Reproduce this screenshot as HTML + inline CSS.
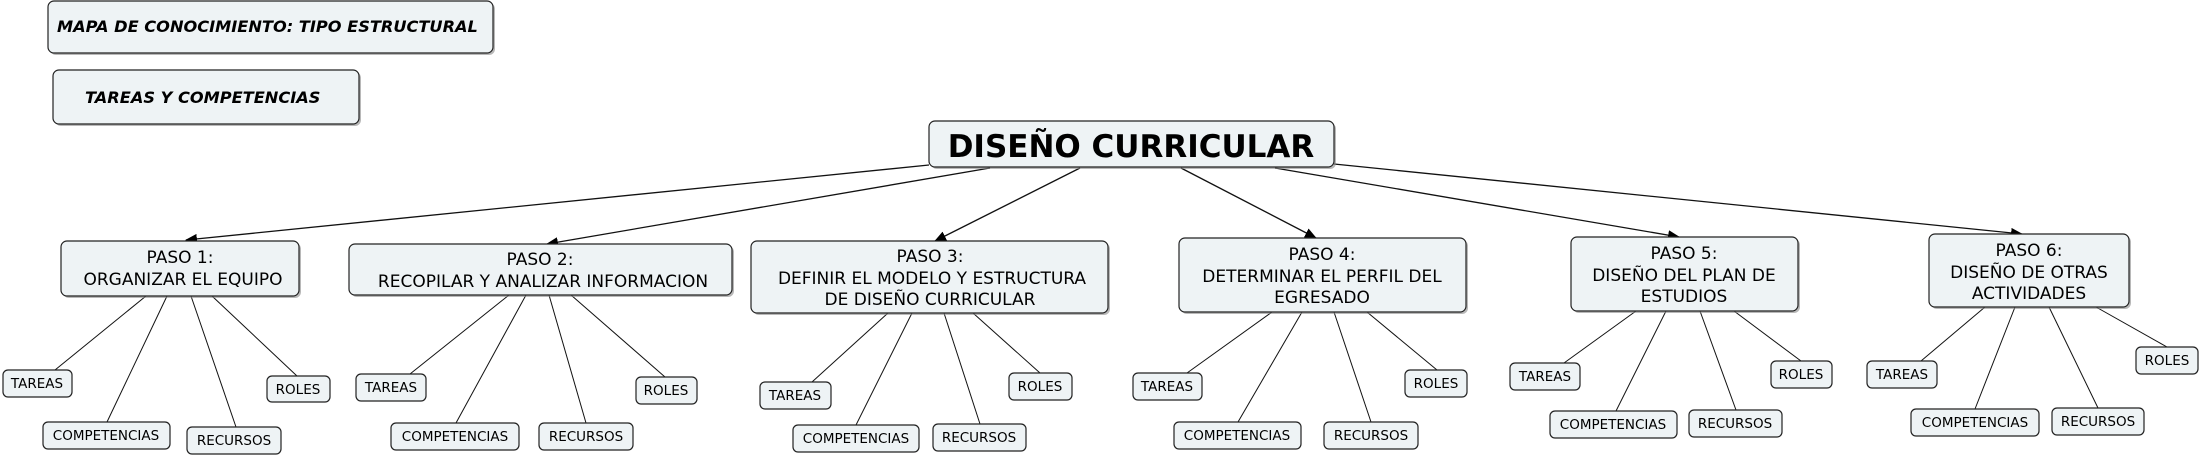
<!DOCTYPE html>
<html><head><meta charset="utf-8"><style>
html,body{margin:0;padding:0;background:#fff;}
svg{display:block;}
text{font-family:"DejaVu Sans","Liberation Sans",sans-serif;fill:#000;}
.b{fill:#eef3f5;stroke:#222;stroke-width:1.2;}
.s{fill:#888;stroke:none;opacity:.6;}
.l{stroke:#111;stroke-width:1;fill:none;}
.a{stroke:#111;stroke-width:1.3;fill:none;}
.p{font-size:17px;}
.f{font-size:13.5px;}
</style></head><body>
<svg width="2202" height="457" viewBox="0 0 2202 457" xmlns="http://www.w3.org/2000/svg">
<defs>
<marker id="ar" markerWidth="12" markerHeight="10" refX="11" refY="5" orient="auto" markerUnits="userSpaceOnUse">
<path d="M0,0 L12,5 L0,10 z" fill="#000"/></marker>
</defs>
<rect class="s" x="50" y="3" width="445" height="52" rx="6"/>
<rect class="b" x="48" y="1" width="445" height="52" rx="6"/>
<text x="57" y="32" style="font-size:16.2px;font-weight:bold;font-style:italic">MAPA DE CONOCIMIENTO: TIPO ESTRUCTURAL</text>
<rect class="s" x="55" y="72" width="306" height="54" rx="6"/>
<rect class="b" x="53" y="70" width="306" height="54" rx="6"/>
<text x="85" y="103" style="font-size:16.2px;font-weight:bold;font-style:italic">TAREAS Y COMPETENCIAS</text>

<line class="a" x1="929" y1="165" x2="186" y2="240" marker-end="url(#ar)"/>
<line class="a" x1="990" y1="168" x2="547" y2="244" marker-end="url(#ar)"/>
<line class="a" x1="1080" y1="168" x2="935" y2="241" marker-end="url(#ar)"/>
<line class="a" x1="1181" y1="168" x2="1316" y2="238" marker-end="url(#ar)"/>
<line class="a" x1="1275" y1="168" x2="1679" y2="237" marker-end="url(#ar)"/>
<line class="a" x1="1334" y1="164" x2="2022" y2="234" marker-end="url(#ar)"/>

<rect class="s" x="931" y="123" width="405" height="46" rx="6"/>
<rect class="b" x="929" y="121" width="405" height="46" rx="6"/>
<text x="1131" y="157" text-anchor="middle" style="font-size:31px;font-weight:bold">DISEÑO CURRICULAR</text>

<g class="l">
<line x1="146" y1="296" x2="55" y2="370"/><line x1="167" y1="296" x2="107" y2="422"/><line x1="191" y1="296" x2="236" y2="427"/><line x1="212" y1="296" x2="297" y2="376"/>
<line x1="509" y1="295" x2="410" y2="374"/><line x1="526" y1="295" x2="456" y2="423"/><line x1="549" y1="295" x2="586" y2="423"/><line x1="571" y1="295" x2="665" y2="377"/>
<line x1="888" y1="313" x2="812" y2="382"/><line x1="912" y1="313" x2="856" y2="425"/><line x1="944" y1="313" x2="980" y2="424"/><line x1="973" y1="313" x2="1040" y2="373"/>
<line x1="1272" y1="312" x2="1187" y2="373"/><line x1="1302" y1="312" x2="1238" y2="422"/><line x1="1334" y1="312" x2="1371" y2="422"/><line x1="1367" y1="312" x2="1437" y2="370"/>
<line x1="1636" y1="311" x2="1564" y2="363"/><line x1="1666" y1="311" x2="1616" y2="411"/><line x1="1700" y1="311" x2="1736" y2="410"/><line x1="1734" y1="311" x2="1801" y2="361"/>
<line x1="1985" y1="307" x2="1921" y2="361"/><line x1="2015" y1="307" x2="1975" y2="409"/><line x1="2049" y1="307" x2="2098" y2="408"/><line x1="2096" y1="307" x2="2167" y2="347"/>
</g>

<rect class="s" x="63" y="243" width="238" height="55" rx="6"/><rect class="b" x="61" y="241" width="238" height="55" rx="6"/>
<text class="p" x="180" y="263" text-anchor="middle">PASO 1:</text><text class="p" x="183" y="285" text-anchor="middle">ORGANIZAR EL EQUIPO</text>

<rect class="s" x="351" y="246" width="383" height="51" rx="6"/><rect class="b" x="349" y="244" width="383" height="51" rx="6"/>
<text class="p" x="540" y="265" text-anchor="middle">PASO 2:</text><text class="p" x="543" y="287" text-anchor="middle">RECOPILAR Y ANALIZAR INFORMACION</text>

<rect class="s" x="753" y="243" width="357" height="72" rx="6"/><rect class="b" x="751" y="241" width="357" height="72" rx="6"/>
<text class="p" x="930" y="262" text-anchor="middle">PASO 3:</text><text class="p" x="932" y="284" text-anchor="middle">DEFINIR EL MODELO Y ESTRUCTURA</text><text class="p" x="930" y="305" text-anchor="middle">DE DISEÑO CURRICULAR</text>

<rect class="s" x="1181" y="240" width="287" height="74" rx="6"/><rect class="b" x="1179" y="238" width="287" height="74" rx="6"/>
<text class="p" x="1322" y="260" text-anchor="middle">PASO 4:</text><text class="p" x="1322" y="282" text-anchor="middle">DETERMINAR EL PERFIL DEL</text><text class="p" x="1322" y="303" text-anchor="middle">EGRESADO</text>

<rect class="s" x="1573" y="239" width="227" height="74" rx="6"/><rect class="b" x="1571" y="237" width="227" height="74" rx="6"/>
<text class="p" x="1684" y="259" text-anchor="middle">PASO 5:</text><text class="p" x="1684" y="281" text-anchor="middle">DISEÑO DEL PLAN DE</text><text class="p" x="1684" y="302" text-anchor="middle">ESTUDIOS</text>

<rect class="s" x="1931" y="236" width="200" height="73" rx="6"/><rect class="b" x="1929" y="234" width="200" height="73" rx="6"/>
<text class="p" x="2029" y="256" text-anchor="middle">PASO 6:</text><text class="p" x="2029" y="278" text-anchor="middle">DISEÑO DE OTRAS</text><text class="p" x="2029" y="299" text-anchor="middle">ACTIVIDADES</text>

<g>
<rect class="b" x="3" y="370" width="69" height="27" rx="5"/><text class="f" x="37" y="388" text-anchor="middle">TAREAS</text>
<rect class="b" x="267" y="376" width="63" height="26" rx="5"/><text class="f" x="298" y="394" text-anchor="middle">ROLES</text>
<rect class="b" x="43" y="422" width="127" height="27" rx="5"/><text class="f" x="106" y="440" text-anchor="middle">COMPETENCIAS</text>
<rect class="b" x="187" y="427" width="94" height="27" rx="5"/><text class="f" x="234" y="445" text-anchor="middle">RECURSOS</text>

<rect class="b" x="356" y="374" width="70" height="27" rx="5"/><text class="f" x="391" y="392" text-anchor="middle">TAREAS</text>
<rect class="b" x="636" y="377" width="61" height="27" rx="5"/><text class="f" x="666" y="395" text-anchor="middle">ROLES</text>
<rect class="b" x="391" y="423" width="128" height="27" rx="5"/><text class="f" x="455" y="441" text-anchor="middle">COMPETENCIAS</text>
<rect class="b" x="539" y="423" width="94" height="27" rx="5"/><text class="f" x="586" y="441" text-anchor="middle">RECURSOS</text>

<rect class="b" x="760" y="382" width="71" height="27" rx="5"/><text class="f" x="795" y="400" text-anchor="middle">TAREAS</text>
<rect class="b" x="1009" y="373" width="63" height="27" rx="5"/><text class="f" x="1040" y="391" text-anchor="middle">ROLES</text>
<rect class="b" x="793" y="425" width="126" height="27" rx="5"/><text class="f" x="856" y="443" text-anchor="middle">COMPETENCIAS</text>
<rect class="b" x="933" y="424" width="93" height="27" rx="5"/><text class="f" x="979" y="442" text-anchor="middle">RECURSOS</text>

<rect class="b" x="1133" y="373" width="69" height="27" rx="5"/><text class="f" x="1167" y="391" text-anchor="middle">TAREAS</text>
<rect class="b" x="1405" y="370" width="62" height="27" rx="5"/><text class="f" x="1436" y="388" text-anchor="middle">ROLES</text>
<rect class="b" x="1174" y="422" width="127" height="27" rx="5"/><text class="f" x="1237" y="440" text-anchor="middle">COMPETENCIAS</text>
<rect class="b" x="1324" y="422" width="94" height="27" rx="5"/><text class="f" x="1371" y="440" text-anchor="middle">RECURSOS</text>

<rect class="b" x="1510" y="363" width="70" height="27" rx="5"/><text class="f" x="1545" y="381" text-anchor="middle">TAREAS</text>
<rect class="b" x="1771" y="361" width="61" height="27" rx="5"/><text class="f" x="1801" y="379" text-anchor="middle">ROLES</text>
<rect class="b" x="1550" y="411" width="127" height="27" rx="5"/><text class="f" x="1613" y="429" text-anchor="middle">COMPETENCIAS</text>
<rect class="b" x="1689" y="410" width="93" height="27" rx="5"/><text class="f" x="1735" y="428" text-anchor="middle">RECURSOS</text>

<rect class="b" x="1867" y="361" width="70" height="27" rx="5"/><text class="f" x="1902" y="379" text-anchor="middle">TAREAS</text>
<rect class="b" x="2136" y="347" width="62" height="27" rx="5"/><text class="f" x="2167" y="365" text-anchor="middle">ROLES</text>
<rect class="b" x="1911" y="409" width="128" height="27" rx="5"/><text class="f" x="1975" y="427" text-anchor="middle">COMPETENCIAS</text>
<rect class="b" x="2052" y="408" width="92" height="27" rx="5"/><text class="f" x="2098" y="426" text-anchor="middle">RECURSOS</text>
</g>
</svg>
</body></html>
